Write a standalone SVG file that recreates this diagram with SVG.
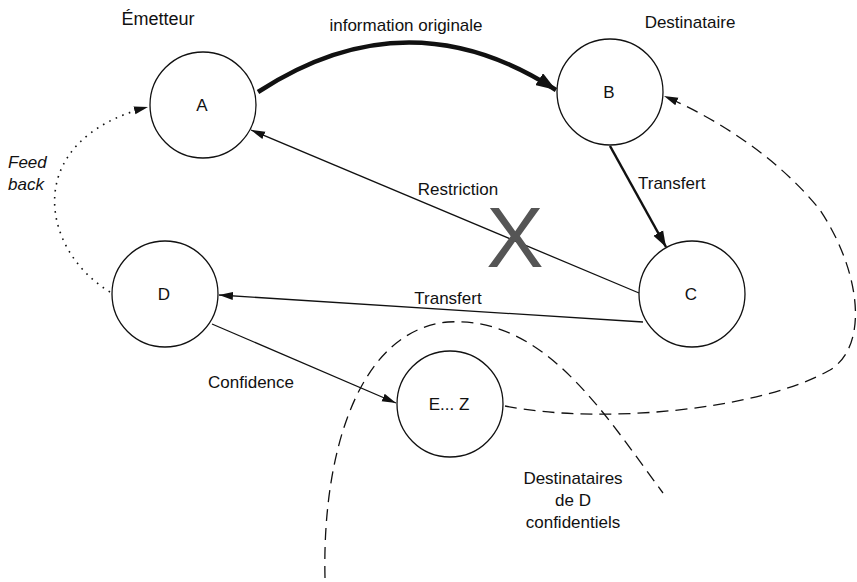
<svg xmlns="http://www.w3.org/2000/svg" width="857" height="582" viewBox="0 0 857 582">
<style>
text{font-family:"Liberation Sans",Arial,sans-serif;fill:#111}
.node circle{fill:#fff;stroke:#111;stroke-width:1.3}
.node text{font-size:17px;text-anchor:middle}
.lbl{font-size:17px}
.e{fill:none;stroke:#111}
</style>
<defs>
<marker id="ah" markerUnits="userSpaceOnUse" viewBox="0 0 14 10" refX="14" refY="5" markerWidth="14" markerHeight="10" orient="auto"><path d="M0,1 L14,5 L0,9 z" fill="#111"/></marker>
<marker id="ahb" markerUnits="userSpaceOnUse" viewBox="0 0 20 14" refX="20" refY="7" markerWidth="20" markerHeight="14" orient="auto"><path d="M0,0 L20,7 L0,14 z" fill="#111"/></marker>
<marker id="ahm" markerUnits="userSpaceOnUse" viewBox="0 0 16 12" refX="16" refY="6" markerWidth="16" markerHeight="12" orient="auto"><path d="M0,0.5 L16,6 L0,11.5 z" fill="#111"/></marker>
</defs>
<g id="connectors">
<path class="e" d="M258,92 Q408,-6 556,90" stroke-width="4.5" marker-end="url(#ahb)"/>
<path class="e" d="M610,146 L666,247" stroke-width="2.5" marker-end="url(#ahm)"/>
<path class="e" d="M639,293 L251,130" stroke-width="1.3" marker-end="url(#ah)"/>
<path class="e" d="M643,322 L219,295" stroke-width="1.3" marker-end="url(#ah)"/>
<path class="e" d="M212,324 L396,403" stroke-width="1.3" marker-end="url(#ah)"/>
<path class="e" d="M110,292 C40,250 20,140 148,107" stroke-width="1.6" stroke-dasharray="1.6 5.5" marker-end="url(#ah)"/>
<path class="e" d="M505,406 C600,425 760,410 830,370 C870,345 860,270 820,210 C780,160 720,120 664,96" stroke-width="1.3" stroke-dasharray="12 7" marker-end="url(#ah)"/>
<path class="e" d="M325,578 C322,450 360,330 448,322 C545,316 605,415 663,493" stroke-width="1.3" stroke-dasharray="12 7"/>
</g>
<g id="labels">
<text x="158" y="25" font-size="18" text-anchor="middle">Émetteur</text>
<text x="690" y="28" class="lbl" text-anchor="middle">Destinataire</text>
<text x="406" y="31" class="lbl" text-anchor="middle">information originale</text>
<text x="458" y="195" class="lbl" text-anchor="middle">Restriction</text>
<text x="638" y="189" class="lbl">Transfert</text>
<text x="448" y="304" class="lbl" text-anchor="middle">Transfert</text>
<text x="208" y="388" class="lbl">Confidence</text>
<text x="8" y="168" class="lbl" font-style="italic">Feed</text>
<text x="8" y="190" class="lbl" font-style="italic">back</text>
<text x="573" y="484" class="lbl" text-anchor="middle">Destinataires</text>
<text x="573" y="506" class="lbl" text-anchor="middle">de D</text>
<text x="573" y="528" class="lbl" text-anchor="middle">confidentiels</text>
<text x="515" y="267" font-size="86" text-anchor="middle" style="fill:#555">X</text>
</g>
<g id="A" class="node"><circle cx="203" cy="105" r="53"/><text x="202" y="111">A</text></g>
<g id="B" class="node"><circle cx="610" cy="92" r="53"/><text x="609" y="98">B</text></g>
<g id="C" class="node"><circle cx="692" cy="294" r="53"/><text x="691" y="300">C</text></g>
<g id="D" class="node"><circle cx="165" cy="294" r="53"/><text x="164" y="300">D</text></g>
<g id="EZ" class="node"><circle cx="450" cy="404" r="53"/><text x="449" y="410">E... Z</text></g>
</svg>
